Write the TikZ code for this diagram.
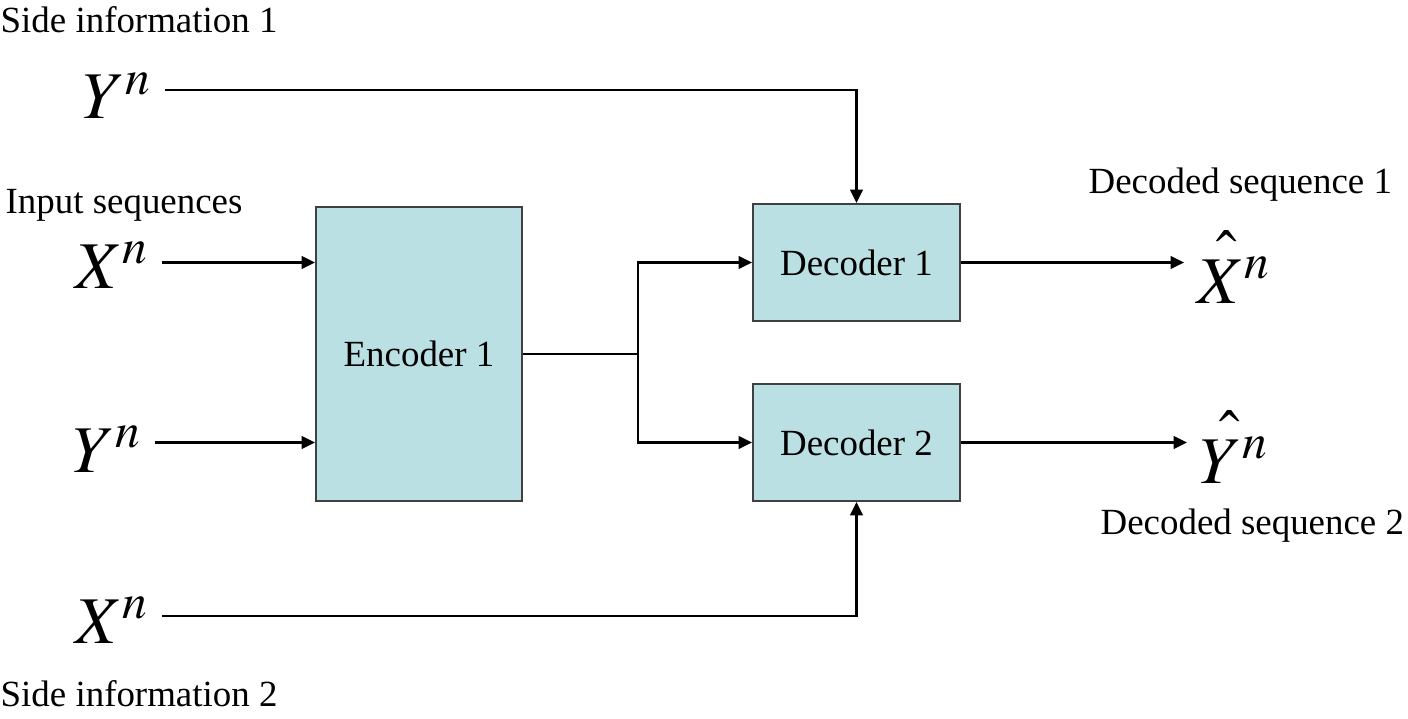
\documentclass[tikz,border=0pt]{standalone}
\usepackage{mathptmx}
\usepackage{fontspec}
\setmainfont{Liberation Serif}
\usepackage{tikz}
\usetikzlibrary{positioning, arrows.meta}
\definecolor{BoxTeal}{RGB}{187,224,227}
\definecolor{BoxEdge}{RGB}{64,64,64}
% hat set a little above the letter, as in the slide
\newcommand{\tallhat}[2]{\rlap{$\mkern#2mu\hat{\vrule height 0.86em width 0pt}$}#1}

\begin{document}
\begin{tikzpicture}[
          blk/.style={rectangle, draw=BoxEdge, line width=0.6pt, fill=BoxTeal,
                      inner sep=0pt, align=center, font=\fontsize{10.5}{12}\selectfont},
          lbl/.style={inner sep=0pt, font=\fontsize{10.5}{12}\selectfont},
          sym/.style={inner sep=0pt, outer sep=0.13cm,
                      font=\fontsize{19}{23}\selectfont},
          arr/.style={-{Triangle[length=3.8pt, width=3.6pt]}, line width=0.6pt},
          ln/.style={line width=0.6pt}
        ]
        \useasboundingbox (0,0) rectangle (14.08,7.18);

        % Encoder and decoders
        \node[blk, minimum width=2.06cm, minimum height=2.94cm]
              (enc) at (4.19, 3.64) {Encoder 1};
        \node[blk, minimum width=2.07cm, minimum height=1.17cm]
              (dec1) at (8.565, 4.555) {Decoder 1};
        \node[blk, minimum width=2.07cm, minimum height=1.17cm]
              (dec2) at (8.565, 2.755) {Decoder 2};

        % Labels
        \node[lbl, anchor=base west] (si1) at (0, 6.86) {Side information 1};
        \node[lbl, anchor=base west] (inp) at (0.05, 5.05) {Input sequences};
        \node[lbl, anchor=base west] (ds1) at (10.88, 5.25) {Decoded sequence 1};
        \node[lbl, anchor=base west] (ds2) at (11.00, 1.84) {Decoded sequence 2};
        \node[lbl, anchor=base west] (si2) at (0, 0.12) {Side information 2};

        % Sequences
        \node[sym, anchor=base east] (ysi) at (1.65, 5.99) {$Y^n$};
        \node[sym, anchor=base east] (xin) at (1.62, 4.30) {$X^n$};
        \node[sym, anchor=base east] (yin) at (1.55, 2.46) {$Y^n$};
        \node[sym, anchor=base east] (xsi) at (1.62, 0.75) {$X^n$};
        \node[sym, anchor=base west] (xhat) at (11.84, 4.15) {$\tallhat{X}{8}^n$};
        \node[sym, anchor=base west] (yhat) at (11.87, 2.35) {$\tallhat{Y}{8}^n$};

        % Turning points of the side information lines
        \coordinate (t1) at ([yshift=1.13cm]dec1.north);
        \coordinate (b2) at ([yshift=-1.14cm]dec2.south);

        % Encoder inputs
        \draw[arr] (xin.east |- dec1) -- (enc.west |- dec1);
        \draw[arr] (yin.east |- dec2) -- (enc.west |- dec2);

        % Encoder output split
        \coordinate (jn) at ([xshift=1.15cm]enc.east);
        \draw[ln] (enc.east) -- (jn);
        \draw[arr] (jn) |- (dec1.west);
        \draw[arr] (jn) |- (dec2.west);

        % Side information
        \draw[arr] (ysi.east |- t1) -- (t1) -- (dec1.north);
        \draw[arr] (xsi.east |- b2) -- (b2) -- (dec2.south);

        % Decoder outputs
        \draw[arr] (dec1.east) -- (dec1 -| xhat.west);
        \draw[arr] (dec2.east) -- (dec2 -| yhat.west);
      \end{tikzpicture}
\end{document}
